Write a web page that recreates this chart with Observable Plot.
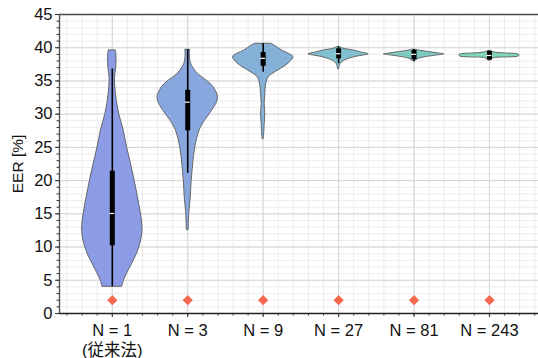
<!DOCTYPE html>
<html>
<head>
<meta charset="utf-8">
<script src="https://cdn.jsdelivr.net/npm/d3@7"></script>
<script src="https://cdn.jsdelivr.net/npm/@observablehq/plot@0.6"></script>
<style>
  html, body { margin: 0; padding: 0; background: white; }
</style>
</head>
<body>
<div id="chart"></div>
<script>
// Category labels (x positions 0..5)
const labels = ["N = 1\n(従来法)", "N = 3", "N = 9", "N = 27", "N = 81", "N = 243"];
const colors = ["#8c9be6", "#88a7df", "#85b1d8", "#82c0cf", "#7fcbc4", "#80d7b9"];

// Violin profiles: EER values and relative density widths (1 = widest)
const v1Eer = [4.06, 5.0, 6.0, 7.5, 9.0, 10.5, 12.3, 14.0, 15.5, 17.5, 20.0, 22.5, 25.0, 27.5, 30.0, 32.0, 34.0, 35.5, 37.0, 38.5, 39.6];
const v1W   = [0.33, 0.39, 0.49, 0.66, 0.82, 0.93, 1.00, 0.98, 0.93, 0.85, 0.74, 0.62, 0.49, 0.38, 0.23, 0.15, 0.10, 0.09, 0.13, 0.14, 0.12];
const v2Eer = [12.6, 15.0, 17.5, 20.0, 22.5, 25.0, 27.5, 29.0, 30.6, 31.8, 32.6, 33.6, 34.6, 35.4, 36.1, 37.0, 37.6, 38.8, 39.7];
const v2W   = [0.03, 0.05, 0.10, 0.13, 0.18, 0.25, 0.39, 0.57, 0.82, 0.97, 1.00, 0.92, 0.75, 0.52, 0.33, 0.18, 0.11, 0.07, 0.08];
const v3Eer = [26.3, 27.5, 28.5, 30.0, 31.5, 33.0, 34.5, 35.6, 36.6, 37.6, 38.6, 39.1, 39.6, 40.3, 40.6];
const v3W   = [0.02, 0.04, 0.05, 0.07, 0.05, 0.07, 0.10, 0.19, 0.51, 0.84, 1.00, 0.85, 0.62, 0.39, 0.27];
const v4Eer = [36.8, 37.3, 37.6, 38.1, 38.6, 38.8, 39.0, 39.3, 39.6, 39.85, 40.1];
const v4W   = [0.02, 0.04, 0.07, 0.22, 0.55, 0.79, 1.00, 0.74, 0.49, 0.16, 0.05];
const v5Eer = [38.0, 38.35, 38.7, 38.85, 39.0, 39.15, 39.35, 39.55, 39.7];
const v5W   = [0.03, 0.16, 0.55, 0.79, 1.00, 0.79, 0.49, 0.20, 0.05];
const v6Eer = [38.1, 38.4, 38.55, 38.65, 38.83, 39.0, 39.15, 39.3, 39.5];
const v6W   = [0.05, 0.13, 0.66, 0.95, 1.00, 0.95, 0.46, 0.16, 0.05];

// Box statistics
const whiskerLo = [4.06, 21.1, 36.3, 37.6, 37.9, 38.1];
const whiskerHi = [36.8, 39.7, 40.6, 40.1, 39.75, 39.5];
const q1 = [10.2, 27.5, 37.2, 38.34, 38.18, 38.15];
const q3 = [21.4, 33.6, 39.3, 39.84, 39.58, 39.45];
const median = [15.05, 31.8, 38.4, 39.09, 39.0, 38.83];
// Reference markers (diamonds)
const refEer = [2, 2, 2, 2, 2, 2];

const halfWidth = 0.4; // violin max half width in category units
const profiles = [[v1Eer, v1W], [v2Eer, v2W], [v3Eer, v3W], [v4Eer, v4W], [v5Eer, v5W], [v6Eer, v6W]];
const violinRows = profiles.flatMap(([ys, ws], i) =>
  ys.map((y, k) => ({cat: i, eer: y, x1: i - halfWidth * ws[k], x2: i + halfWidth * ws[k]})));
const cats = labels.map((_, i) => i);
const boxRows = cats.map(i => ({cat: i, lo: whiskerLo[i], hi: whiskerHi[i], q1: q1[i], q3: q3[i], med: median[i], ref: refEer[i]}));

const minorX = d3.range(-3, 29).map(k => k / 5);
const minorY = d3.range(0, 46, 1);
const majorY = d3.range(0, 46, 5);
const medHalf = 0.032;

const chart = Plot.plot({
  width: 538,
  height: 358,
  marginLeft: 59,
  marginRight: 0,
  marginTop: 14,
  marginBottom: 45,
  x: {domain: [-0.7, 5.65]},
  y: {domain: [0, 45]},
  color: {type: "ordinal", domain: cats, range: colors},
  style: {fontFamily: "'Liberation Sans', Arimo, 'Noto Sans CJK JP', sans-serif", fontSize: "16px", background: "white", color: "#111"},
  marks: [
    Plot.ruleY(minorY, {stroke: "#ececec", strokeWidth: 1}),
    Plot.ruleX(minorX, {stroke: "#ececec", strokeWidth: 1}),
    Plot.ruleY(majorY, {stroke: "#d6d6d6", strokeWidth: 1}),
    Plot.ruleX(cats, {stroke: "#d6d6d6", strokeWidth: 1}),
    Plot.areaX(violinRows, {y: "eer", x1: "x1", x2: "x2", z: "cat", fill: "cat", fillOpacity: 1, stroke: "#5a5a5a", strokeWidth: 0.9, curve: "catmull-rom"}),
    Plot.ruleX(boxRows, {x: "cat", y1: "lo", y2: "hi", stroke: "black", strokeWidth: 1.6}),
    Plot.ruleX(boxRows, {x: "cat", y1: "q1", y2: "q3", stroke: "black", strokeWidth: 5}),
    Plot.ruleY(boxRows, {y: "med", x1: d => d.cat - medHalf, x2: d => d.cat + medHalf, stroke: "white", strokeWidth: 1.2}),
    Plot.dot(boxRows, {x: "cat", y: "ref", symbol: "diamond2", r: 4.6, fill: "#f4694d", stroke: "none"}),
    Plot.ruleY([45], {stroke: "#4a4a4a", strokeWidth: 1.3}),
    Plot.ruleY([0], {stroke: "#222", strokeWidth: 1.3}),
    Plot.ruleX([-0.7], {stroke: "#4a4a4a", strokeWidth: 1.3}),
    Plot.axisY({ticks: majorY, tickSize: 4, tickPadding: 3, fontSize: 16.5, label: null, stroke: "#333"}),
    Plot.axisY({ticks: minorY, tickSize: 2.5, tickFormat: () => "", label: null, stroke: "#333"}),
    Plot.axisX({ticks: cats, tickSize: 4, tickPadding: 5, tickFormat: i => labels[i], fontSize: 16.5, lineHeight: 1.17, label: null, stroke: "#333"}),
    Plot.axisX({ticks: minorX, tickSize: 2.5, tickFormat: () => "", label: null, stroke: "#333"}),
    Plot.text(["EER [%]"], {frameAnchor: "left", dx: -41, rotate: -90, textAnchor: "middle", fontSize: 15.5})
  ]
});
document.getElementById("chart").appendChild(chart);
</script>
</body>
</html>
